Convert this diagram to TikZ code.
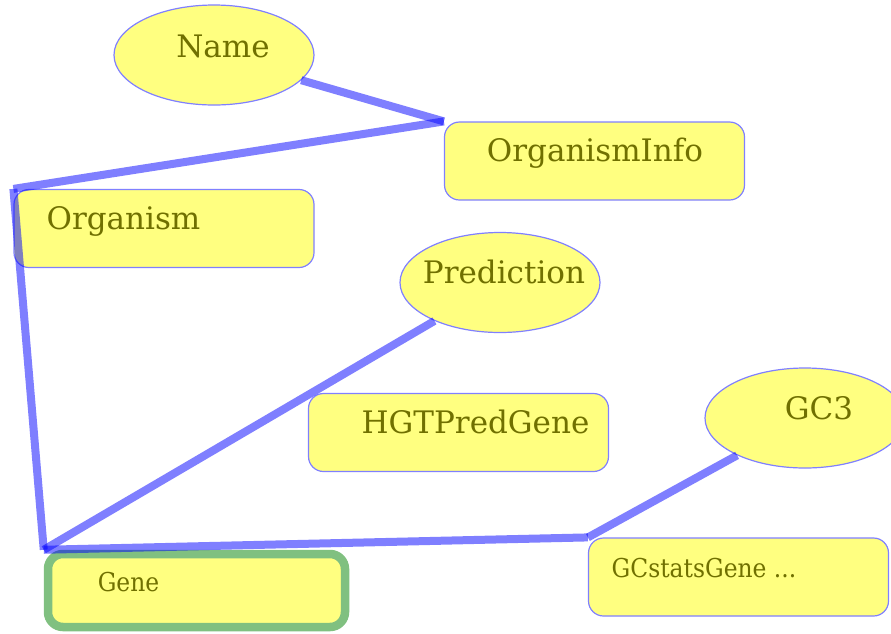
\documentclass[tikz,border=0pt]{standalone}
\usepackage{fontspec}
\setmainfont{DejaVu Serif}
\newfontfamily\condserif[FakeStretch=0.9]{DejaVu Serif}
\usetikzlibrary{shapes.geometric}
\definecolor{boxfill}{RGB}{255,255,128}
\definecolor{boxedge}{RGB}{128,128,255}
\definecolor{labeltext}{RGB}{112,112,0}
\definecolor{geneedge}{RGB}{128,192,128}
\tikzset{
  entity/.style={draw=boxedge, line width=1.2pt, fill=boxfill, rounded corners=15pt,
    minimum width=300pt, minimum height=78pt, inner sep=0pt},
  attrib/.style={draw=boxedge, line width=1.2pt, fill=boxfill, ellipse,
    minimum width=200pt, minimum height=100pt, inner sep=0pt},
  bigtext/.style={text=labeltext, font=\fontsize{31}{35}\selectfont, anchor=base, inner sep=0pt},
  smalltext/.style={text=labeltext, font=\condserif\fontsize{26}{30}\selectfont, anchor=base, inner sep=0pt},
  link/.style={draw=blue, draw opacity=0.5, line width=8pt},
}
\begin{document}
\begin{tikzpicture}[x=1pt, y=-1pt]
  \clip (0,0) rectangle (891,633);
  \fill[white] (0,0) rectangle (891,633);

  % attribute ellipses
  \node[attrib] (name) at (214,55) {};
  \node[attrib] (prediction) at (500,282.5) {};
  \node[attrib] (gc3) at (805,418) {};

  % entity boxes
  \node[entity] (orginfo) at (594.5,161) {};
  \node[entity] (organism) at (164,228.5) {};
  \node[entity] (hgtpred) at (458.5,432.5) {};
  \node[entity] (gcstats) at (738.5,577) {};
  \node[entity, draw=geneedge, line width=8.5pt, minimum width=297pt, minimum height=73pt]
    (gene) at (196.5,590.5) {};

  % labels
  \node[bigtext] (nameT) at (223,57) {Name};
  \node[bigtext] (orginfoT) at (595,161) {OrganismInfo};
  \node[bigtext] (organismT) at (123.5,229) {Organism};
  \node[bigtext] (predictionT) at (504,283) {Prediction};
  \node[bigtext] (hgtpredT) at (475.5,433) {HGTPredGene};
  \node[bigtext] (gc3T) at (819,419) {GC3};
  \node[smalltext] (geneT) at (128.5,591) {Gene};
  \node[smalltext] (gcstatsT) at (704,577) {GCstatsGene ...};

  % connectors
  \draw[link] (name) -- (orginfo.north west);
  \draw[link] (orginfo.north west) -- (organism.north west);
  \draw[link] (organism.north west) -- (gene.north west);
  \draw[link] (gene.north west) -- (prediction);
  \draw[link] (gene.north west) -- (gcstats.north west);
  \draw[link] (gcstats.north west) -- (gc3);
\end{tikzpicture}
\end{document}
